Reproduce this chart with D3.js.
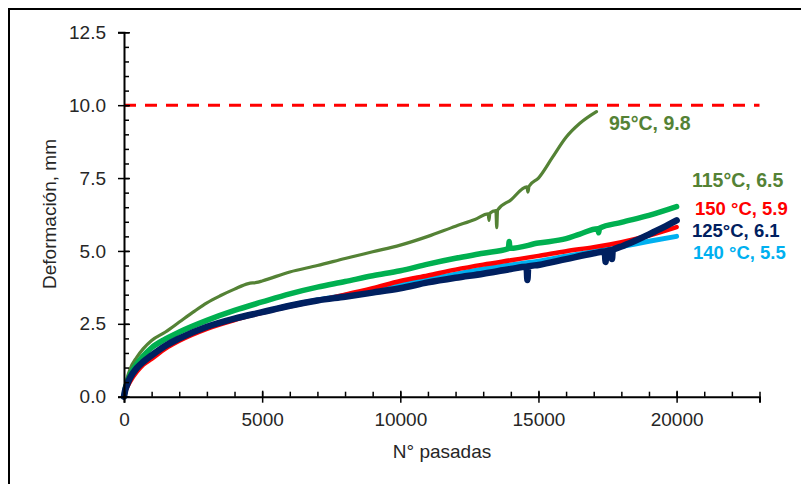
<!DOCTYPE html>
<html>
<head>
<meta charset="utf-8">
<script src="https://cdn.jsdelivr.net/npm/d3@7"></script>
<style>
  html, body { margin: 0; padding: 0; background: #fff; }
  svg { display: block; font-family: "Liberation Sans", Arial, sans-serif; }
</style>
</head>
<body>
<svg id="chart" width="801" height="484"></svg>
<script>
// ---- data ----
const passes95  = [0, 50, 100, 220, 460, 700, 1000, 1500, 2000, 2500, 3000, 3500, 4000, 4500, 4800, 5000, 6000, 7000, 8000, 9000, 10000, 11000, 12000, 12700, 13180, 13210, 13240, 13460, 13490, 13520, 14000, 14580, 14620, 14660, 15000, 15500, 16000, 16500, 17100];
const def95     = [0, 0.4, 0.6, 0.95, 1.35, 1.65, 1.93, 2.22, 2.56, 2.9, 3.22, 3.47, 3.69, 3.88, 3.92, 3.97, 4.28, 4.5, 4.74, 4.97, 5.2, 5.5, 5.85, 6.08, 6.27, 6.05, 6.29, 6.38, 5.8, 6.4, 6.75, 7.2, 7.02, 7.22, 7.5, 8.2, 8.9, 9.38, 9.78];

const passes115 = [0, 50, 100, 220, 460, 700, 1000, 1500, 2000, 3000, 4000, 5000, 6000, 7000, 8000, 9000, 10000, 11000, 12000, 13000, 13910, 13940, 13970, 15000, 16000, 16500, 17150, 17180, 17210, 18000, 19000, 20000];
const def115    = [0, 0.3, 0.45, 0.75, 1.12, 1.4, 1.68, 1.98, 2.22, 2.62, 2.96, 3.25, 3.53, 3.76, 3.95, 4.15, 4.32, 4.55, 4.75, 4.92, 5.08, 5.32, 5.09, 5.27, 5.42, 5.58, 5.76, 5.62, 5.78, 5.98, 6.22, 6.52];

const passes140 = [0, 50, 100, 220, 460, 700, 1000, 1500, 2000, 3000, 4000, 5000, 6000, 7000, 8000, 9000, 10000, 11000, 12000, 13000, 14000, 15000, 16000, 17000, 18000, 19000, 20000];
const def140    = [0, 0.22, 0.35, 0.6, 0.93, 1.15, 1.38, 1.72, 1.97, 2.38, 2.67, 2.9, 3.13, 3.32, 3.48, 3.66, 3.85, 4.02, 4.2, 4.38, 4.52, 4.65, 4.82, 4.98, 5.15, 5.33, 5.5];

const passes150 = [0, 50, 100, 220, 460, 700, 1000, 1500, 2000, 3000, 4000, 5000, 6000, 7000, 8000, 9000, 10000, 11000, 12000, 13000, 14000, 15000, 16000, 17000, 18000, 19000, 20000];
const def150    = [0, 0.18, 0.3, 0.52, 0.85, 1.1, 1.3, 1.65, 1.92, 2.33, 2.63, 2.88, 3.1, 3.3, 3.5, 3.72, 3.97, 4.16, 4.36, 4.53, 4.68, 4.83, 4.99, 5.13, 5.3, 5.53, 5.82];

const passes125 = [0, 50, 100, 220, 460, 700, 1000, 1500, 2000, 3000, 4000, 5000, 6000, 7000, 8000, 9000, 10000, 11000, 12000, 13000, 14000, 14570, 14600, 14630, 15000, 16000, 17000, 17400, 17430, 17460, 17630, 17660, 17690, 18000, 18500, 19000, 19500, 20000];
const def125    = [0, 0.25, 0.38, 0.65, 0.98, 1.2, 1.42, 1.75, 2.0, 2.4, 2.68, 2.9, 3.12, 3.3, 3.43, 3.57, 3.72, 3.92, 4.08, 4.22, 4.38, 4.46, 4.0, 4.47, 4.52, 4.72, 4.92, 4.98, 4.62, 4.99, 5.02, 4.72, 5.03, 5.15, 5.35, 5.57, 5.8, 6.05];

const seriesNames  = ["95°C", "115°C", "140 °C", "150 °C", "125°C"];
const finalLabels  = ["95°C, 9.8", "115°C, 6.5", "140 °C, 5.5", "150 °C, 5.9", "125°C, 6.1"];
const lineColors   = ["#548235", "#00B050", "#00B0F0", "#FF0000", "#002060"];
const labelColors  = ["#548235", "#548235", "#00B0F0", "#FF0000", "#002060"];

const xMajorTicks = [0, 5000, 10000, 15000, 20000];
const yMajorTicks = [0, 2.5, 5, 7.5, 10, 12.5];
const limitValue  = 10;
const xTitle = "N° pasadas";
const yTitle = "Deformación, mm";

// ---- layout ----
const svg = d3.select("#chart");
const x = d3.scaleLinear().domain([0, 23000]).range([124, 759.5]);
const y = d3.scaleLinear().domain([0, 12.5]).range([396.7, 32.3]);

// outer frame (top and left edges visible)
svg.append("rect").attr("x", 9).attr("y", 9).attr("width", 820).attr("height", 500)
  .attr("fill", "none").attr("stroke", "#000").attr("stroke-width", 2);

const series = [
  d3.zip(passes95, def95),
  d3.zip(passes115, def115),
  d3.zip(passes140, def140),
  d3.zip(passes150, def150),
  d3.zip(passes125, def125)
];
const widths = [3.2, 5.5, 5, 4.5, 6.5];

// limit line
svg.append("line")
  .attr("x1", x(0)).attr("x2", x(23000))
  .attr("y1", y(limitValue)).attr("y2", y(limitValue))
  .attr("stroke", "#FF0000").attr("stroke-width", 3)
  .attr("stroke-dasharray", "12,9");

const line = d3.line().x(d => x(d[0])).y(d => y(d[1])).curve(d3.curveMonotoneX);
const g = svg.append("g");
series.forEach((s, i) => {
  g.append("path").datum(s).attr("d", line)
    .attr("fill", "none").attr("stroke", lineColors[i])
    .attr("stroke-width", widths[i]).attr("stroke-linejoin", "round").attr("stroke-linecap", "round");
});

// axes
const fontSize = 19;
const yAxis = svg.append("g").attr("transform", `translate(${x(0)},0)`)
  .call(d3.axisLeft(y).tickValues(yMajorTicks).tickFormat(d3.format(".1f")).tickSize(6).tickPadding(12));
yAxis.selectAll(".tick line").attr("x1", -6).attr("x2", 6);
const yMinor = svg.append("g").attr("transform", `translate(${x(0)},0)`)
  .call(d3.axisLeft(y).tickValues(d3.range(0, 12.51, 0.5)).tickSize(-5).tickFormat(""));
yMinor.select(".domain").remove();

const xAxis = svg.append("g").attr("transform", `translate(0,${y(0)})`)
  .call(d3.axisBottom(x).tickValues(xMajorTicks).tickFormat(d3.format("d")).tickSize(6).tickPadding(10));
xAxis.selectAll(".tick line").attr("y1", -6).attr("y2", 6);
const xMinor = svg.append("g").attr("transform", `translate(0,${y(0)})`)
  .call(d3.axisBottom(x).tickValues(d3.range(0, 23001, 1000)).tickSize(-5).tickFormat(""));
xMinor.select(".domain").remove();

svg.selectAll(".domain").attr("stroke", "#000").attr("stroke-width", 2);
svg.selectAll(".tick line").attr("stroke", "#000").attr("stroke-width", 1.5);
svg.selectAll(".tick text").attr("font-size", fontSize).attr("fill", "#262626")
  .attr("font-family", "'Liberation Sans', Arial, sans-serif");

// titles
svg.append("text").attr("x", 442).attr("y", 458).attr("text-anchor", "middle")
  .attr("font-size", 19).attr("fill", "#262626").text(xTitle);
svg.append("text").attr("transform", "translate(56,214) rotate(-90)").attr("text-anchor", "middle")
  .attr("font-size", 19).attr("fill", "#262626").text(yTitle);

// end labels
const labelPos = [[609, 130], [692, 187], [693, 259], [695, 215], [692, 237]];
finalLabels.forEach((t, i) => {
  svg.append("text").attr("x", labelPos[i][0]).attr("y", labelPos[i][1])
    .attr("font-size", i < 2 ? 19.5 : 18.5).attr("font-weight", "bold").attr("fill", labelColors[i]).text(t);
});
</script>
</body>
</html>
